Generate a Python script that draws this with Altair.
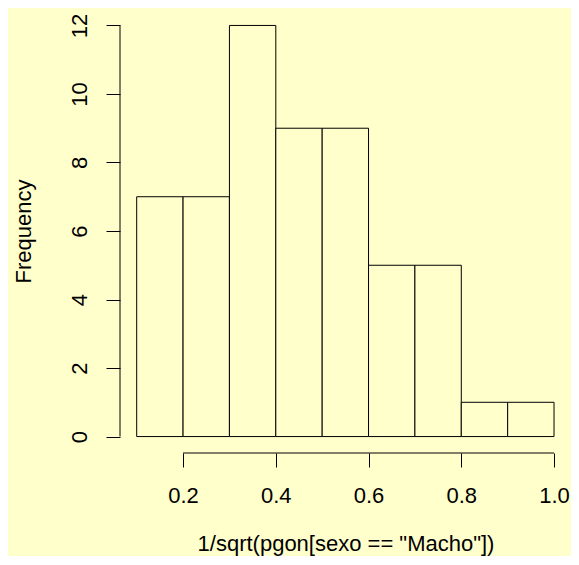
import altair as alt
import pandas as pd

bin_start = [0.1, 0.2, 0.3, 0.4, 0.5, 0.6, 0.7, 0.8, 0.9]
bin_end = [0.2, 0.3, 0.4, 0.5, 0.6, 0.7, 0.8, 0.9, 1.0]
counts = [7, 7, 12, 9, 9, 5, 5, 1, 1]
x_ticks = [0.2, 0.4, 0.6, 0.8, 1.0]
y_ticks = [0, 2, 4, 6, 8, 10, 12]

BG = "#FFFFCC"
W, H = 451, 444
FONT = "Liberation Sans"
FS = 22

df = pd.DataFrame({"x0": bin_start, "x1": bin_end, "y0": [0] * len(counts), "count": counts})

xs = alt.Scale(domain=[0.064, 1.0366], nice=False, zero=False)
ys = alt.Scale(domain=[-0.48, 12.48], nice=False, zero=False)

bars = alt.Chart(df).mark_rect(fill=BG, stroke="black", strokeWidth=1).encode(
    x=alt.X("x0:Q", scale=xs, axis=alt.Axis(
        values=x_ticks, format=".1f", title='1/sqrt(pgon[sexo == "Macho"])',
        tickSize=14, labelPadding=18, titlePadding=27, labelFontSize=FS, titleFontSize=FS,
        labelFont=FONT, titleFont=FONT, titleFontWeight="normal", grid=False, domain=False,
        tickColor="black", labelColor="black", titleColor="black", labelFlush=False)),
    x2="x1:Q",
    y=alt.Y("y0:Q", scale=ys, axis=alt.Axis(
        values=y_ticks, title="Frequency", tickSize=14, labelPadding=15, titlePadding=33,
        labelAngle=-90, labelFontSize=FS, titleFontSize=FS, labelFont=FONT, titleFont=FONT,
        titleFontWeight="normal", grid=False, domain=False, tickColor="black",
        labelColor="black", titleColor="black", labelFlush=False)),
    y2="count:Q",
)

xdom = alt.Chart(pd.DataFrame({"a": [x_ticks[0]], "b": [x_ticks[-1]]})).mark_rule(
    color="black", strokeWidth=1).encode(
    x=alt.X("a:Q", scale=xs), x2="b:Q", y=alt.value(H))

ydom = alt.Chart(pd.DataFrame({"a": [y_ticks[0]], "b": [y_ticks[-1]]})).mark_rule(
    color="black", strokeWidth=1).encode(
    y=alt.Y("a:Q", scale=ys), y2="b:Q", x=alt.value(0))

chart = alt.layer(bars, xdom, ydom).properties(
    width=W, height=H, background=BG,
    padding={"left": 112, "top": 1, "right": 0, "bottom": 103},
    autosize=alt.AutoSizeParams(type="none"),
).configure_view(stroke=None)

chart.save("out.html", embed_options={"renderer": "svg", "actions": False})
